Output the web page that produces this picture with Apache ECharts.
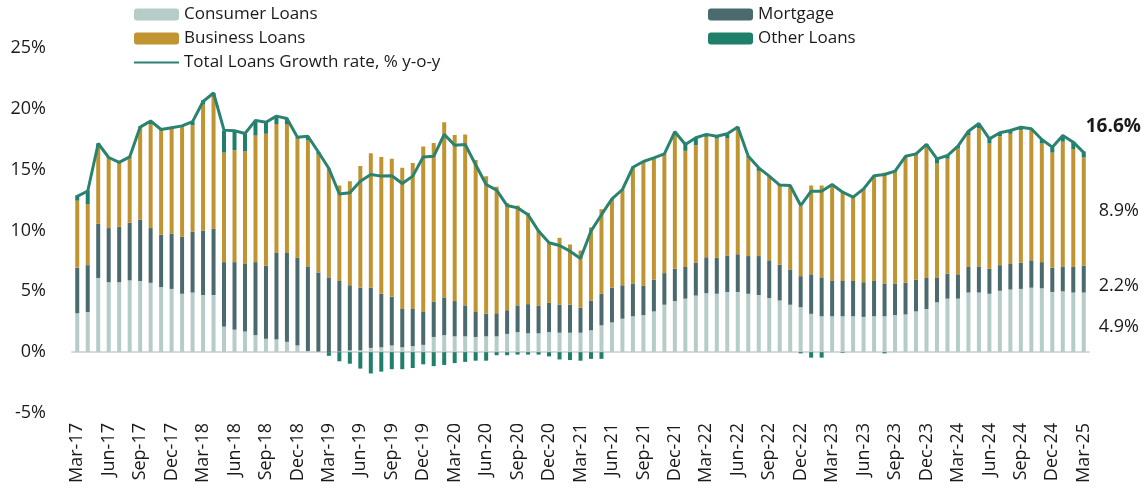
<!DOCTYPE html>
<html>
<head>
<meta charset="utf-8">
<script src="https://cdn.jsdelivr.net/npm/echarts@6/dist/echarts.min.js"></script>
<style>
  html, body { margin: 0; padding: 0; background: #fff; }
  #chart { width: 1145px; height: 499px; }
</style>
</head>
<body>
<div id="chart"></div>
<script>
// ── Data (contributions to y-o-y loan growth, % pts) ─────────────────────────

const MONTH_NAMES = ['Jan','Feb','Mar','Apr','May','Jun','Jul','Aug','Sep','Oct','Nov','Dec'];

// Mar-17 .. Mar-25, monthly
const categories = [];
for (let y = 17; y <= 25; y++) {
  for (let m = 0; m < 12; m++) {
    if ((y === 17 && m < 2) || (y === 25 && m > 2)) continue;
    categories.push(MONTH_NAMES[m] + '-' + y);
  }
}

const consumer = [
  3.2, 3.3, 6.1, 5.75, 5.75, 5.9, 5.85, 5.7, 5.35, 5.2, 4.8, 4.9,
  4.7, 4.7, 2.1, 1.85, 1.7, 1.4, 1.1, 1.05, 0.85, 0.55, 0.1, 0.05,
  0.0, 0.05, 0.15, 0.15, 0.35, 0.4, 0.55, 0.4, 0.5, 0.6, 1.25, 1.4,
  1.3, 1.3, 1.25, 1.3, 1.3, 1.5, 1.65, 1.55, 1.55, 1.65, 1.6, 1.6,
  1.6, 1.8, 2.2, 2.45, 2.75, 2.95, 3.05, 3.35, 3.9, 4.2, 4.4, 4.65,
  4.85, 4.8, 4.95, 4.95, 4.8, 4.7, 4.45, 4.25, 3.9, 3.7, 3.15, 2.95,
  2.95, 2.95, 2.95, 2.9, 2.95, 2.95, 3.05, 3.1, 3.35, 3.55, 4.1, 4.4,
  4.4, 4.9, 4.9, 4.8, 5.05, 5.15, 5.2, 5.3, 5.25, 4.95, 5.0, 4.9,
  4.9
];

const mortgage = [
  3.75, 3.85, 4.45, 4.45, 4.55, 4.75, 5.05, 4.5, 4.3, 4.55, 4.7, 5.0,
  5.3, 5.45, 5.3, 5.55, 5.55, 6.0, 6.0, 7.15, 7.3, 7.2, 6.95, 6.5,
  6.15, 5.8, 5.35, 5.15, 4.95, 4.4, 4.0, 3.15, 3.05, 2.75, 2.9, 3.1,
  2.9, 2.55, 2.05, 1.85, 1.9, 1.95, 2.2, 2.4, 2.25, 2.4, 2.3, 2.3,
  2.05, 2.45, 2.6, 2.85, 2.75, 2.7, 2.4, 2.6, 2.6, 2.65, 2.6, 2.7,
  2.95, 2.95, 3.0, 3.1, 3.1, 3.2, 3.1, 2.95, 2.9, 2.55, 3.25, 3.2,
  2.95, 2.9, 2.9, 2.85, 2.9, 2.7, 2.6, 2.6, 2.6, 2.55, 2.05, 2.05,
  2.0, 2.1, 2.15, 2.05, 2.1, 2.1, 2.15, 2.25, 2.15, 2.0, 2.05, 2.1,
  2.2
];

const business = [
  5.5, 5.0, 6.3, 5.8, 5.25, 5.35, 7.6, 8.55, 8.6, 8.65, 9.0, 8.75,
  10.35, 10.9, 9.0, 9.2, 9.25, 10.4, 10.85, 10.55, 10.6, 9.8, 10.35, 9.7,
  8.95, 7.85, 8.55, 10.0, 11.05, 11.25, 11.35, 11.6, 12.0, 13.55, 13.05, 14.4,
  13.65, 14.05, 12.5, 11.3, 10.4, 8.8, 8.2, 7.5, 6.2, 4.9, 5.5, 4.95,
  4.7, 6.0, 6.95, 7.25, 7.8, 9.55, 10.15, 9.95, 9.75, 11.05, 9.55, 9.65,
  9.9, 9.8, 9.65, 10.25, 8.1, 7.0, 6.85, 6.45, 6.9, 5.75, 7.3, 7.55,
  7.8, 7.25, 6.85, 7.6, 8.55, 9.1, 9.15, 10.4, 10.3, 10.9, 9.35, 9.45,
  10.35, 10.85, 11.35, 10.3, 10.6, 10.7, 10.9, 10.75, 9.75, 9.45, 10.25, 9.7,
  8.9
];

const other = [
  0.45, 1.15, 0.3, 0.05, 0.05, 0.05, 0.05, 0.2, 0.1, 0.1, 0.1, 0.3,
  0.35, 0.25, 1.8, 1.6, 1.45, 1.2, 0.95, 0.6, 0.45, 0.1, 0.35, 0.2,
  -0.3, -0.75, -0.95, -1.35, -1.75, -1.6, -1.4, -1.4, -1.3, -1.0, -1.15, -1.05,
  -0.9, -0.8, -0.7, -0.7, -0.25, -0.25, -0.2, -0.2, -0.2, -0.35, -0.6, -0.65,
  -0.7, -0.55, -0.55, 0.05, 0.05, 0.05, 0.05, 0.05, 0.05, 0.1, 0.55, 0.6,
  0.2, 0.2, 0.3, 0.2, 0.1, 0.25, 0.05, 0.1, 0.0, -0.1, -0.45, -0.45,
  0.05, -0.05, 0.05, 0.05, 0.1, -0.1, 0.1, 0.0, 0.05, 0.1, 0.4, 0.3,
  0.2, 0.3, 0.35, 0.4, 0.3, 0.25, 0.25, 0.05, 0.35, 0.45, 0.45, 0.55,
  0.5
];

const totalGrowth = [
  12.8, 13.25, 17.15, 16.0, 15.6, 16.05, 18.5, 19.0, 18.3, 18.45, 18.6, 18.95,
  20.6, 21.3, 18.25, 18.2, 17.97, 19.05, 18.9, 19.4, 19.2, 17.67, 17.75, 16.45,
  15.1, 13.0, 13.1, 14.05, 14.6, 14.47, 14.5, 13.86, 14.47, 16.05, 16.1, 17.9,
  17.0, 17.07, 15.4, 13.78, 13.32, 12.05, 11.86, 11.3, 9.95, 8.99, 8.77, 8.3,
  7.7, 9.95, 11.3, 12.6, 13.37, 15.2, 15.67, 15.97, 16.3, 18.12, 17.07, 17.62,
  17.9, 17.75, 17.95, 18.5, 16.1, 15.15, 14.47, 13.73, 13.7, 12.05, 13.23, 13.23,
  13.78, 13.15, 12.74, 13.42, 14.5, 14.6, 14.88, 16.1, 16.3, 17.07, 15.89, 16.16,
  16.93, 18.16, 18.79, 17.53, 18.03, 18.22, 18.49, 18.36, 17.48, 16.85, 17.81, 17.26,
  16.4
];

// latest-month labels shown on the right
const lastLabels = { consumer: '4.9%', mortgage: '2.2%', business: '8.9%', total: '16.6%' };

// ── Styling ──────────────────────────────────────────────────────────────────

const FONT = 'Open Sans';
const TEXT = '#1a1a1a';
const COLORS = {
  consumer: '#b5ccc8',
  mortgage: '#4a6a6e',
  business: '#c09431',
  other: '#1f7f6b',
  line: '#2a8270',
};

function withLastLabel(values, text, offset) {
  return values.map((v, i) => i !== values.length - 1 ? v : {
    value: v,
    label: {
      show: true, position: 'right', distance: 13, offset,
      formatter: text, color: TEXT, fontSize: 18, fontFamily: FONT,
    },
  });
}

function barSeries(name, values, color, extra = {}) {
  return Object.assign({
    name, type: 'bar', stack: 'loans', barWidth: 4,
    itemStyle: { color },
    data: values,
  }, extra);
}

const chart = echarts.init(document.getElementById('chart'), null, { renderer: 'canvas' });

const legendBase = {
  orient: 'vertical', itemWidth: 45, itemHeight: 12, itemGap: 7,
  textStyle: { fontSize: 17, fontFamily: FONT, color: TEXT },
  padding: 0,
};

chart.setOption({
  animation: false,
  backgroundColor: '#fff',
  textStyle: { fontFamily: FONT },
  grid: { left: 72, right: 56, top: 48, bottom: 86, containLabel: false, outerBoundsMode: 'none' },
  legend: [
    Object.assign({
      left: 133, top: 6,
      data: [
        'Consumer Loans',
        'Business Loans',
        { name: 'Total Loans Growth rate, % y-o-y', itemStyle: { opacity: 0 } },
      ],
    }, legendBase),
    Object.assign({ left: 708, top: 6, data: ['Mortgage', 'Other Loans'] }, legendBase),
  ],
  xAxis: {
    type: 'category',
    data: categories,
    axisLine: { onZero: true, lineStyle: { color: '#d9d9d9', width: 2 } },
    axisTick: { interval: 2, length: 6, lineStyle: { color: '#d9d9d9', width: 2 } },
    // labels stay at the grid bottom (below -5%), the line sits on zero
    axisLabel: {
      interval: 2, rotate: 90, margin: 10,
      fontSize: 18, fontFamily: FONT, color: TEXT,
    },
  },
  yAxis: {
    type: 'value', min: -5, max: 25, interval: 5,
    splitLine: { show: false },
    axisLine: { show: false },
    axisTick: { show: false },
    axisLabel: { formatter: '{value}%', fontSize: 18, fontFamily: FONT, color: TEXT, margin: 26 },
  },
  series: [
    barSeries('Consumer Loans', withLastLabel(consumer, lastLabels.consumer, [0, 5]), COLORS.consumer),
    barSeries('Mortgage', withLastLabel(mortgage, lastLabels.mortgage, [0, 7]), COLORS.mortgage),
    barSeries('Business Loans', withLastLabel(business, lastLabels.business, [0, -1]), COLORS.business),
    barSeries('Other Loans', other, COLORS.other),
    {
      name: 'Total Loans Growth rate, % y-o-y',
      type: 'line',
      data: totalGrowth,
      symbol: 'none',
      lineStyle: { color: COLORS.line, width: 3 },
      itemStyle: { color: COLORS.line },
      z: 5,
      endLabel: {
        show: true, formatter: lastLabels.total, offset: [-6, -26],
        fontSize: 19, fontWeight: 'bold', fontFamily: FONT, color: TEXT,
      },
    },
  ],
});
</script>
</body>
</html>
